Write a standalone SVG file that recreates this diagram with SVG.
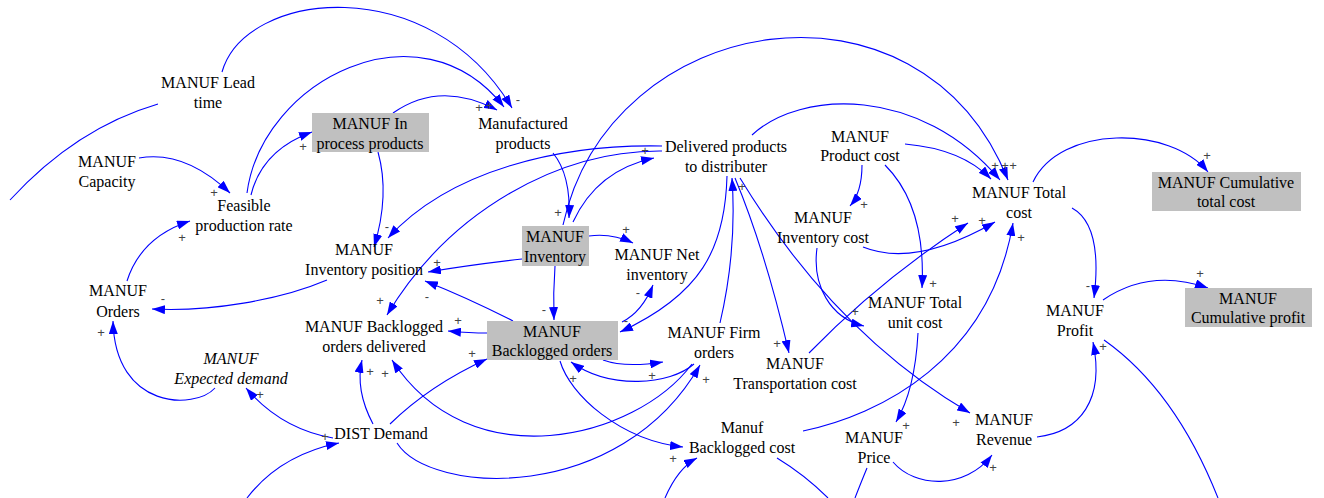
<svg xmlns="http://www.w3.org/2000/svg" width="1324" height="498" viewBox="0 0 1324 498">
<defs>
<marker id="ah" markerWidth="13" markerHeight="9" refX="13" refY="4.5" orient="auto" markerUnits="userSpaceOnUse"><path d="M0,0 L13,4.5 L0,9 z" fill="#0000ff"/></marker>
<style>
.t{font-family:'Liberation Serif','DejaVu Serif',serif;font-size:16px;fill:#000;text-anchor:middle}
.i{font-style:italic}
.box{fill:#c0c0c0}
.c{fill:none;stroke:#0000ff;stroke-width:1.1}
.a{marker-end:url(#ah)}
.s{font-family:'Liberation Sans',sans-serif;font-size:13px;fill:#444;text-anchor:middle}
</style>
</defs>
<rect width="1324" height="498" fill="#fff"/>
<g id="connectors">
<path class="c" d="M158,104 Q76,128 10,200"/>
<path class="c a" d="M222,72 C245,-10 430,-30 512,108"/>
<path class="c a" d="M247,193 C262,80 420,0 504,107"/>
<path class="c a" d="M393,113 Q440,80 497,110"/>
<path class="c a" d="M251,195 Q262,150 312,132"/>
<path class="c a" d="M139,158 Q185,150 230,193"/>
<path class="c a" d="M127,281 Q141,237 190,221"/>
<path class="c a" d="M378,152 Q390,195 374,247"/>
<path class="c a" d="M662,146 C560,144 450,170 388,238"/>
<path class="c a" d="M662,151 C560,150 450,210 387,315"/>
<path class="c a" d="M573,222 Q597,170 654,158"/>
<path class="c a" d="M553,153 Q571,175 569,218"/>
<path class="c a" d="M563,225 C610,10 920,-40 1008,180"/>
<path class="c a" d="M752,135 C800,90 920,85 1000,180"/>
<path class="c a" d="M905,144 Q962,149 991,179"/>
<path class="c a" d="M1033,182 C1060,125 1170,125 1208,172"/>
<path class="c a" d="M1072,208 Q1103,225 1094,298"/>
<path class="c a" d="M1103,300 Q1150,268 1208,288"/>
<path class="c a" d="M1037,437 C1080,432 1105,400 1093,342"/>
<path class="c" d="M1104,340 Q1175,390 1218,498"/>
<path class="c a" d="M893,462 C915,488 965,490 992,455"/>
<path class="c a" d="M918,333 Q915,390 896,422"/>
<path class="c a" d="M817,248 C812,285 830,318 864,326"/>
<path class="c a" d="M863,247 Q915,268 995,222"/>
<path class="c a" d="M885,165 C910,190 925,230 922,288"/>
<path class="c a" d="M862,165 Q862,192 850,206"/>
<path class="c a" d="M809,353 Q880,280 968,223"/>
<path class="c a" d="M803,431 C880,415 990,360 1013,223"/>
<path class="c a" d="M735,178 Q765,250 789,353"/>
<path class="c a" d="M740,178 Q835,334 970,413"/>
<path class="c a" d="M720,323 Q737,250 732,178"/>
<path class="c a" d="M727,176 C725,250 700,295 620,332"/>
<path class="c a" d="M622,322 Q642,312 653,285"/>
<path class="c a" d="M522,259 Q470,265 428,272"/>
<path class="c a" d="M589,236 Q612,233 633,243"/>
<path class="c a" d="M555,266 Q553,293 554,320"/>
<path class="c a" d="M513,321 Q468,298 425,281"/>
<path class="c a" d="M487,333 Q470,333 448,331"/>
<path class="c a" d="M603,360 Q625,368 663,362"/>
<path class="c a" d="M694,364 C670,385 610,390 571,362"/>
<path class="c a" d="M560,361 C570,395 620,440 683,447"/>
<path class="c a" d="M692,364 C635,440 470,480 392,360"/>
<path class="c a" d="M397,443 C430,495 620,505 700,365"/>
<path class="c a" d="M373,424 Q355,390 362,360"/>
<path class="c a" d="M390,424 Q430,385 487,359"/>
<path class="c a" d="M333,438 Q281,429 246,388"/>
<path class="c a" d="M247,498 Q280,455 339,443"/>
<path class="c a" d="M215,388 C195,410 115,410 113,321"/>
<path class="c a" d="M327,280 C280,300 210,312 152,309"/>
<path class="c a" d="M665,498 Q678,468 697,458"/>
<path class="c" d="M867,468 Q860,485 855,498"/>
<path class="c" d="M777,458 Q805,475 828,498"/>
</g>
<g id="signs">
<text class="s" x="518" y="104">-</text>
<text class="s" x="479" y="112">+</text>
<text class="s" x="489" y="110">+</text>
<text class="s" x="303" y="151">+</text>
<text class="s" x="214" y="197">+</text>
<text class="s" x="182" y="242">+</text>
<text class="s" x="387" y="231">-</text>
<text class="s" x="380" y="305">+</text>
<text class="s" x="437" y="267">+</text>
<text class="s" x="427" y="301">-</text>
<text class="s" x="458" y="325">+</text>
<text class="s" x="626" y="234">+</text>
<text class="s" x="544" y="314">-</text>
<text class="s" x="638" y="297">-</text>
<text class="s" x="626" y="325">-</text>
<text class="s" x="645" y="155">+</text>
<text class="s" x="558" y="217">+</text>
<text class="s" x="652" y="380">+</text>
<text class="s" x="573" y="383">+</text>
<text class="s" x="706" y="384">+</text>
<text class="s" x="673" y="463">+</text>
<text class="s" x="370" y="376">+</text>
<text class="s" x="385" y="378">+</text>
<text class="s" x="472" y="358">+</text>
<text class="s" x="260" y="399">+</text>
<text class="s" x="325" y="441">+</text>
<text class="s" x="101" y="337">+</text>
<text class="s" x="163" y="303">-</text>
<text class="s" x="777" y="348">+</text>
<text class="s" x="956" y="427">+</text>
<text class="s" x="742" y="191">+</text>
<text class="s" x="995" y="170">+</text>
<text class="s" x="1005" y="170">+</text>
<text class="s" x="1013" y="170">+</text>
<text class="s" x="864" y="209">+</text>
<text class="s" x="933" y="288">+</text>
<text class="s" x="982" y="225">+</text>
<text class="s" x="955" y="223">+</text>
<text class="s" x="1021" y="242">+</text>
<text class="s" x="855" y="316">+</text>
<text class="s" x="906" y="430">+</text>
<text class="s" x="993" y="472">+</text>
<text class="s" x="1103" y="351">+</text>
<text class="s" x="1088" y="290">-</text>
<text class="s" x="1200" y="278">+</text>
<text class="s" x="1207" y="160">+</text>
</g>
<g font-family="Liberation Serif, serif">
<g id="lead-time"><text class="t" x="208" y="88">MANUF Lead</text><text class="t" x="208" y="108">time</text></g>
<g id="capacity"><text class="t" x="107" y="167">MANUF</text><text class="t" x="107" y="187">Capacity</text></g>
<g id="feasible"><text class="t" x="244" y="211">Feasible</text><text class="t" x="244" y="231">production rate</text></g>
<g id="in-process"><rect class="box" x="312" y="113" width="117" height="39"/><text class="t" x="370" y="129">MANUF In</text><text class="t" x="370" y="149">process products</text></g>
<g id="manufactured"><text class="t" x="523" y="129">Manufactured</text><text class="t" x="523" y="149">products</text></g>
<g id="delivered"><text class="t" x="726" y="152">Delivered products</text><text class="t" x="726" y="172">to distributer</text></g>
<g id="product-cost"><text class="t" x="860" y="142">MANUF</text><text class="t" x="860" y="161">Product cost</text></g>
<g id="total-cost"><text class="t" x="1019" y="198">MANUF Total</text><text class="t" x="1019" y="218">cost</text></g>
<g id="cum-total-cost"><rect class="box" x="1152" y="172" width="149" height="39"/><text class="t" x="1226" y="188">MANUF Cumulative</text><text class="t" x="1226" y="207">total cost</text></g>
<g id="inv-position"><text class="t" x="364" y="255">MANUF</text><text class="t" x="364" y="275">Inventory position</text></g>
<g id="inventory"><rect class="box" x="522" y="226" width="67" height="40"/><text class="t" x="555" y="242">MANUF</text><text class="t" x="555" y="262">Inventory</text></g>
<g id="net-inventory"><text class="t" x="657" y="260">MANUF Net</text><text class="t" x="657" y="280">inventory</text></g>
<g id="orders"><text class="t" x="118" y="296">MANUF</text><text class="t" x="118" y="317">Orders</text></g>
<g id="backlogged-delivered"><text class="t" x="374" y="332">MANUF Backlogged</text><text class="t" x="374" y="352">orders delivered</text></g>
<g id="backlogged-orders"><rect class="box" x="487" y="321" width="131" height="39"/><text class="t" x="552" y="337">MANUF</text><text class="t" x="552" y="356">Backlogged orders</text></g>
<g id="firm-orders"><text class="t" x="714" y="338">MANUF Firm</text><text class="t" x="714" y="358">orders</text></g>
<g id="transportation"><text class="t" x="795" y="369">MANUF</text><text class="t" x="795" y="389">Transportation cost</text></g>
<g id="inventory-cost"><text class="t" x="823" y="223">MANUF</text><text class="t" x="823" y="243">Inventory cost</text></g>
<g id="total-unit-cost"><text class="t" x="915" y="308">MANUF Total</text><text class="t" x="915" y="328">unit cost</text></g>
<g id="expected-demand"><text class="t i" x="231" y="364">MANUF</text><text class="t i" x="231" y="384">Expected demand</text></g>
<g id="dist-demand"><text class="t" x="381" y="439">DIST Demand</text></g>
<g id="backlogged-cost"><text class="t" x="742" y="433">Manuf</text><text class="t" x="742" y="453">Backlogged cost</text></g>
<g id="price"><text class="t" x="874" y="443">MANUF</text><text class="t" x="874" y="463">Price</text></g>
<g id="revenue"><text class="t" x="1004" y="425">MANUF</text><text class="t" x="1004" y="445">Revenue</text></g>
<g id="profit"><text class="t" x="1075" y="316">MANUF</text><text class="t" x="1075" y="336">Profit</text></g>
<g id="cum-profit"><rect class="box" x="1185" y="288" width="127" height="39"/><text class="t" x="1248" y="304">MANUF</text><text class="t" x="1248" y="323">Cumulative profit</text></g>
</g>
</svg>
